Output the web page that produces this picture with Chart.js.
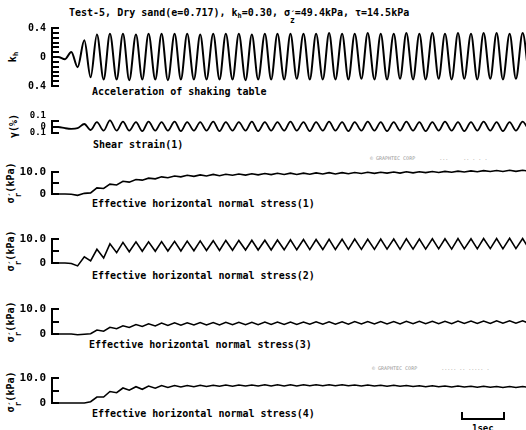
<!DOCTYPE html>
<html>
<head>
<meta charset="utf-8">
<script src="https://cdn.jsdelivr.net/npm/chart.js"></script>
<style>
  body { margin: 0; width: 526px; height: 430px; background: #fff; overflow: hidden; position: relative;
         font-family: 'DejaVu Sans Mono', monospace; font-weight: bold; color: #000; }
  .txt { position: absolute; font-size: 10px; white-space: nowrap; line-height: 1; transform: translateY(-50%); }
  .ytitle { position: absolute; font-size: 10px; white-space: nowrap; line-height: 1; transform: translate(-50%, -50%) rotate(-90deg); }
  .ps { display: inline-flex; flex-direction: column; font-size: 8px; line-height: 5px; vertical-align: -2px; text-align: center; }
  sub { font-size: 7px; vertical-align: -2px; line-height: 0; }
  canvas { position: absolute; left: 0; }
  .mark { position: absolute; font-size: 5px; color: #999; font-weight: normal; white-space: nowrap; }
  .bar { position: absolute; border: 2px solid #000; border-top: none; }
</style>
</head>
<body>

<div class="txt" style="left:69px;top:15px">Test-5, Dry sand(e=0.717), k<sub>h</sub>=0.30, σ<span class="ps"><span>´</span><span>z</span></span>=49.4kPa, τ=14.5kPa</div>

<div class="ytitle" style="left:13px;top:57px">k<sub>h</sub></div>
<div class="ytitle" style="left:14px;top:126px">γ(%)</div>
<div class="ytitle" style="left:13px;top:183px">σ<span class="ps"><span>´</span><span>r</span></span>(kPa)</div>
<div class="ytitle" style="left:13px;top:251px">σ<span class="ps"><span>´</span><span>r</span></span>(kPa)</div>
<div class="ytitle" style="left:13px;top:322px">σ<span class="ps"><span>´</span><span>r</span></span>(kPa)</div>
<div class="ytitle" style="left:13px;top:392px">σ<span class="ps"><span>´</span><span>r</span></span>(kPa)</div>

<div class="txt" style="left:92px;top:92px">Acceleration of shaking table</div>
<div class="txt" style="left:93px;top:145px">Shear strain(1)</div>
<div class="txt" style="left:92px;top:204px">Effective horizontal normal stress(1)</div>
<div class="txt" style="left:92px;top:276px">Effective horizontal normal stress(2)</div>
<div class="txt" style="left:89px;top:345px">Effective horizontal normal stress(3)</div>
<div class="txt" style="left:92px;top:414px">Effective horizontal normal stress(4)</div>

<div class="mark" style="left:370px;top:155px">© GRAPHTEC CORP &nbsp;&nbsp;&nbsp;&nbsp;&nbsp;&nbsp; ... &nbsp;&nbsp;&nbsp; .. . . .</div>
<div class="mark" style="left:372px;top:365px">© GRAPHTEC CORP &nbsp;&nbsp;&nbsp;&nbsp;&nbsp;&nbsp; ..... .. ..... .</div>

<div class="bar" style="left:461px;top:412px;width:40px;height:6px"></div>
<div class="txt" style="left:472px;top:428px;font-size:9px">1sec</div>

<canvas id="kh" width="526"></canvas>
<canvas id="gamma" width="526"></canvas>
<canvas id="s1" width="526"></canvas>
<canvas id="s2" width="526"></canvas>
<canvas id="s3" width="526"></canvas>
<canvas id="s4" width="526"></canvas>

<script>
// sample times (s), one sample every half cycle of the shaking
const tSec = [0.00, 0.15, 0.31, 0.46, 0.61, 0.77, 0.92, 1.07, 1.23, 1.38,
    1.54, 1.69, 1.84, 2.00, 2.15, 2.30, 2.46, 2.61, 2.76, 2.92,
    3.07, 3.22, 3.38, 3.53, 3.68, 3.84, 3.99, 4.14, 4.30, 4.45,
    4.61, 4.76, 4.91, 5.07, 5.22, 5.37, 5.53, 5.68, 5.83, 5.99,
    6.14, 6.29, 6.45, 6.60, 6.75, 6.91, 7.06, 7.21, 7.37, 7.52,
    7.68, 7.83, 7.98, 8.14, 8.29, 8.44, 8.60, 8.75, 8.90, 9.06,
    9.21, 9.36, 9.52, 9.67, 9.82, 9.98, 10.13, 10.28, 10.44, 10.59,
    10.74, 10.90, 11.05, 11.21, 11.36];

// acceleration of shaking table, kh
const khValues = [0, 0, -0.03, 0.07, -0.14, 0.23, -0.28, 0.31, -0.31, 0.32,
    -0.31, 0.32, -0.32, 0.31, -0.31, 0.32, -0.31, 0.32, -0.32, 0.32,
    -0.31, 0.32, -0.31, 0.31, -0.31, 0.32, -0.31, 0.32, -0.31, 0.32,
    -0.32, 0.31, -0.31, 0.32, -0.31, 0.32, -0.31, 0.32, -0.30, 0.32,
    -0.31, 0.32, -0.31, 0.33, -0.31, 0.32, -0.31, 0.32, -0.30, 0.33,
    -0.31, 0.32, -0.31, 0.32, -0.30, 0.33, -0.31, 0.32, -0.31, 0.33,
    -0.30, 0.32, -0.31, 0.33, -0.30, 0.32, -0.31, 0.33, -0.30, 0.33,
    -0.31, 0.32, -0.30, 0.33, -0.30];

// shear strain (1), %
const gammaValues = [0, 0, -0.02, -0.03, -0.02, 0.05, -0.05, 0.08, -0.06, 0.11,
    -0.06, 0.09, -0.06, 0.08, -0.07, 0.09, -0.06, 0.08, -0.06, 0.09,
    -0.07, 0.08, -0.06, 0.08, -0.06, 0.09, -0.07, 0.08, -0.06, 0.08,
    -0.06, 0.09, -0.07, 0.08, -0.06, 0.08, -0.06, 0.09, -0.06, 0.08,
    -0.07, 0.08, -0.06, 0.09, -0.06, 0.08, -0.07, 0.08, -0.06, 0.09,
    -0.06, 0.08, -0.07, 0.08, -0.06, 0.09, -0.06, 0.08, -0.07, 0.08,
    -0.06, 0.09, -0.06, 0.08, -0.07, 0.08, -0.06, 0.09, -0.06, 0.08,
    -0.07, 0.08, -0.06, 0.09, -0.06];

// effective horizontal normal stress (1)-(4), kPa
const stress1 = [0, 0, 0, -0.1, -0.6, 0.3, 0.5, 2.8, 2.5, 4.5,
    4.1, 5.8, 5.4, 6.6, 6.3, 7.2, 6.9, 7.8, 7.4, 8.2,
    7.8, 8.5, 8.0, 8.7, 8.2, 8.9, 8.3, 9.0, 8.5, 9.1,
    8.6, 9.2, 8.7, 9.3, 8.8, 9.4, 8.9, 9.5, 8.9, 9.5,
    9.0, 9.6, 9.1, 9.7, 9.1, 9.7, 9.2, 9.8, 9.3, 9.9,
    9.4, 9.9, 9.5, 10.0, 9.5, 10.1, 9.6, 10.1, 9.7, 10.2,
    9.8, 10.3, 9.9, 10.4, 10.0, 10.5, 10.1, 10.6, 10.2, 10.7,
    10.2, 10.8, 10.3, 10.8, 10.4];

const stress2 = [0, 0, 0, -0.2, -1.2, 2.6, 0.9, 5.7, 2.1, 8.0,
    4.3, 8.6, 4.7, 8.8, 4.9, 8.8, 4.9, 8.9, 5.0, 9.0,
    5.0, 9.1, 5.1, 9.2, 5.2, 9.3, 5.2, 9.4, 5.3, 9.4,
    5.4, 9.5, 5.4, 9.5, 5.4, 9.6, 5.5, 9.7, 5.5, 9.8,
    5.6, 9.8, 5.6, 9.9, 5.6, 9.9, 5.7, 10.0, 5.7, 9.9,
    5.7, 10.0, 5.8, 10.0, 5.7, 10.1, 5.8, 10.0, 5.8, 10.1,
    5.9, 10.1, 5.8, 10.2, 5.9, 10.1, 5.9, 10.2, 6.0, 10.2,
    5.9, 10.3, 6.0, 10.2, 6.0];

const stress3 = [0, 0, 0, 0, -0.3, -0.1, 0.1, 1.6, 1.1, 2.7,
    2.1, 3.3, 2.6, 3.8, 3.0, 4.1, 3.2, 4.4, 3.4, 4.5,
    3.5, 4.5, 3.6, 4.6, 3.6, 4.6, 3.6, 4.7, 3.7, 4.7,
    3.7, 4.7, 3.7, 4.8, 3.8, 4.8, 3.8, 4.8, 3.8, 4.8,
    3.9, 4.9, 3.9, 4.9, 3.9, 4.9, 3.9, 5.0, 4.0, 5.0,
    4.0, 5.0, 4.0, 5.0, 4.0, 5.1, 4.1, 5.1, 4.1, 5.1,
    4.1, 5.1, 4.1, 5.2, 4.2, 5.2, 4.2, 5.2, 4.2, 5.3,
    4.3, 5.3, 4.3, 5.3, 4.3];

const stress4 = [0, 0, 0, 0, 0, 0, 0.5, 2.4, 2.4, 4.6,
    4.1, 6.0, 5.1, 6.5, 5.5, 6.8, 5.9, 7.0, 6.2, 7.0,
    6.4, 7.0, 6.5, 7.1, 6.6, 7.1, 6.7, 7.2, 6.7, 7.2,
    6.8, 7.2, 6.8, 7.3, 6.8, 7.3, 6.8, 7.3, 6.8, 7.3,
    6.9, 7.3, 6.9, 7.3, 6.9, 7.3, 6.9, 7.2, 6.8, 7.2,
    6.8, 7.1, 6.7, 7.1, 6.7, 7.0, 6.6, 6.9, 6.5, 6.9,
    6.5, 6.8, 6.4, 6.8, 6.4, 6.7, 6.3, 6.7, 6.3, 6.6,
    6.2, 6.6, 6.2, 6.6, 6.2];

// tick labels (value -> text), text as printed on the record
const khTickValues = [0.4, 0, -0.4];
const khTickLabels = ['0.4', '0', '0.4'];
const gammaTickValues = [0.1, 0, -0.1];
const gammaTickLabels = [['0.1', ''], '0', '0.1'];
const stressTickValues = [10, 0];
const stressTickLabels = ['10.0', '0'];

const PAD = 12;

function drawPanel(id, top, bottom, values, yMin, yMax, step, tickValues, tickLabels, smooth, lineWidth, fontSize) {
    const canvas = document.getElementById(id);
    canvas.height = bottom - top + 2 * PAD;
    canvas.style.top = (top - PAD) + 'px';

    new Chart(canvas, {
        type: 'line',
        data: {
            datasets: [{
                data: tSec.map((t, i) => ({x: t, y: values[i]})),
                borderColor: '#000',
                borderWidth: lineWidth,
                pointRadius: 0,
                fill: false,
                clip: false,
                tension: smooth ? 0.4 : 0,
                cubicInterpolationMode: smooth ? 'monotone' : 'default'
            }]
        },
        options: {
            responsive: false,
            animation: false,
            events: [],
            layout: { padding: { top: PAD, bottom: PAD, left: 0, right: 0 } },
            plugins: { legend: { display: false }, tooltip: { enabled: false } },
            scales: {
                x: { type: 'linear', min: 0, max: 11.29, display: false },
                y: {
                    min: yMin,
                    max: yMax,
                    afterFit: (scale) => {
                        scale.width = 52;
                        scale.paddingTop = 0;
                        scale.paddingBottom = 0;
                    },
                    border: { display: true, color: '#000', width: 2 },
                    grid: { drawOnChartArea: false, drawTicks: true, tickLength: -7, color: '#000', lineWidth: 2 },
                    ticks: {
                        stepSize: step,
                        autoSkip: false,
                        padding: 13,
                        color: '#000',
                        font: { family: 'DejaVu Sans Mono', weight: 'bold', size: fontSize },
                        callback: (v) => {
                            for (let k = 0; k < tickValues.length; k++) {
                                if (Math.abs(v - tickValues[k]) < 1e-6) return tickLabels[k];
                            }
                            return '';
                        }
                    }
                }
            }
        }
    });
}

drawPanel('kh', 28, 86, khValues, -0.4, 0.4, 0.4 / 6, khTickValues, khTickLabels, true, 2, 10);
drawPanel('gamma', 121, 133, gammaValues, -0.1, 0.1, 0.1, gammaTickValues, gammaTickLabels, true, 1.8, 9);
drawPanel('s1', 172, 194, stress1, 0, 10, 5, stressTickValues, stressTickLabels, false, 1.6, 11);
drawPanel('s2', 239, 263, stress2, 0, 10, 5, stressTickValues, stressTickLabels, false, 1.6, 11);
drawPanel('s3', 309, 334, stress3, 0, 10, 5, stressTickValues, stressTickLabels, false, 1.6, 11);
drawPanel('s4', 378, 403, stress4, 0, 10, 5, stressTickValues, stressTickLabels, false, 1.6, 11);
</script>
</body>
</html>
